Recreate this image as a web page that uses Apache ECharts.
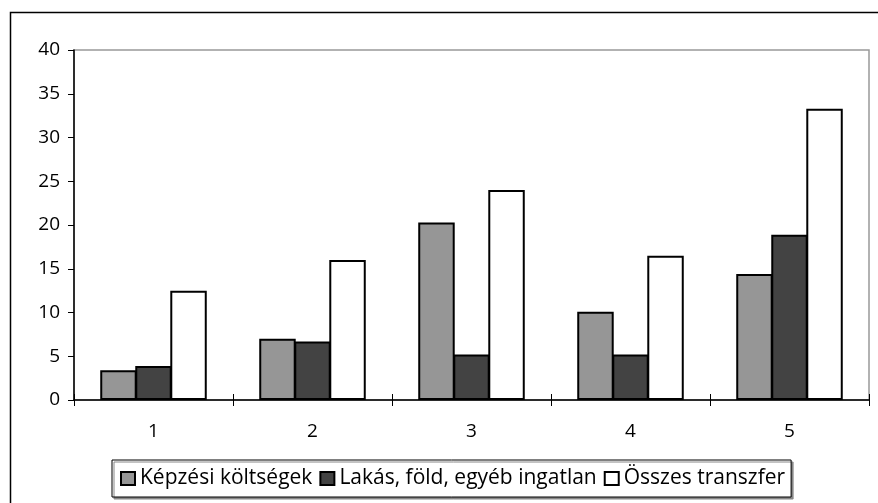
<!DOCTYPE html>
<html>
<head>
<meta charset="utf-8">
<script src="https://cdn.jsdelivr.net/npm/echarts@6/dist/echarts.min.js"></script>
<style>
html,body{margin:0;padding:0;background:#fff;}
#chart{width:878px;height:503px;}
</style>
</head>
<body>
<div id="chart"></div>
<script>
var categories = ['1', '2', '3', '4', '5'];
var kepzesi = [3.4, 7.0, 20.3, 10.1, 14.4];
var lakas = [3.9, 6.7, 5.2, 5.2, 18.9];
var osszes = [12.5, 16.0, 24.0, 16.5, 33.3];
var seriesNames = ['Képzési költségek', 'Lakás, föld, egyéb ingatlan', 'Összes transzfer'];
var yTicks = { min: 0, max: 40, interval: 5 };

var FONT = 'Open Sans';
var chart = echarts.init(document.getElementById('chart'), null, { renderer: 'canvas' });

function barSeries(name, data, color) {
  return {
    name: name, type: 'bar', data: data,
    barGap: '-4%', barCategoryGap: '33%',
    itemStyle: { color: color, borderColor: '#000', borderWidth: 2 },
    emphasis: { disabled: true }
  };
}

chart.setOption({
  animation: false,
  textStyle: { fontFamily: FONT },
  graphic: [{
    type: 'rect', left: 8, top: 10, silent: true,
    shape: { width: 900, height: 600 },
    style: { fill: 'none', stroke: '#000', lineWidth: 1.5 }
  }],
  grid: {
    left: 74, right: 9, top: 50, bottom: 103,
    show: true, borderColor: '#999', borderWidth: 1.5, backgroundColor: 'transparent'
  },
  legend: {
    left: 112, top: 460,
    padding: [8, 6, 8, 8],
    itemWidth: 14, itemHeight: 13, itemGap: 7,
    icon: 'rect',
    backgroundColor: '#fff', borderColor: '#000', borderWidth: 1,
    shadowColor: '#888', shadowOffsetX: 2, shadowOffsetY: 2, shadowBlur: 0,
    textStyle: { fontFamily: FONT, fontSize: 21, color: '#000' },
    data: seriesNames
  },
  xAxis: [{
    type: 'category', data: categories,
    axisLine: { lineStyle: { color: '#000', width: 1.5 } },
    axisTick: { show: true, length: 6, inside: false, lineStyle: { color: '#000', width: 1 } },
    axisLabel: { fontFamily: FONT, fontSize: 19, color: '#000', margin: 22 },
    splitLine: { show: false }
  }, {
    type: 'category', data: categories, position: 'bottom',
    axisLine: { show: false },
    axisTick: { show: true, length: 6, inside: true, lineStyle: { color: '#000', width: 1 } },
    axisLabel: { show: false },
    splitLine: { show: false }
  }],
  yAxis: {
    type: 'value', min: yTicks.min, max: yTicks.max, interval: yTicks.interval,
    axisLine: { show: true, lineStyle: { color: '#000', width: 1.5 } },
    axisTick: { show: true, length: 6, lineStyle: { color: '#000', width: 1 } },
    axisLabel: { fontFamily: FONT, fontSize: 19, color: '#000', margin: 14 },
    splitLine: { show: false }
  },
  series: [
    barSeries(seriesNames[0], kepzesi, '#969696'),
    barSeries(seriesNames[1], lakas, '#434343'),
    barSeries(seriesNames[2], osszes, '#ffffff')
  ]
});
</script>
</body>
</html>
